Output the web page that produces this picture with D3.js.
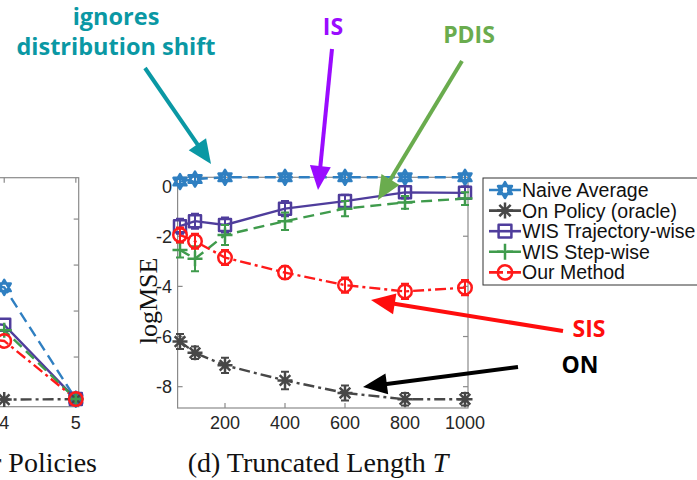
<!DOCTYPE html>
<html>
<head>
<meta charset="utf-8">
<script src="https://cdn.jsdelivr.net/npm/d3@7"></script>
<style>
  body { margin: 0; background: #fff; }
  svg { display: block; }
</style>
</head>
<body>
<div id="chart"></div>
<script>
// right panel: truncated length T
var lengths = [50, 100, 200, 400, 600, 800, 1000];
var naiveAvg = [0.18, 0.28, 0.35, 0.35, 0.35, 0.35, 0.35];
var onPolicy = [-6.2, -6.65, -7.15, -7.75, -8.25, -8.5, -8.5];
var wisTraj = [-1.6, -1.4, -1.55, -0.9, -0.6, -0.25, -0.27];
var wisStep = [-2.55, -2.9, -1.95, -1.4, -0.9, -0.65, -0.5];
var ourMethod = [-1.95, -2.2, -2.85, -3.45, -3.95, -4.2, -4.05];

var naiveErr = [0.1, 0.1, 0.1, 0.1, 0.1, 0.1, 0.1];
var onPolicyErr = [0.3, 0.25, 0.3, 0.35, 0.3, 0.25, 0.25];
var wisTrajErr = [0.3, 0.3, 0.3, 0.3, 0.25, 0.25, 0.25];
var wisStepErr = [0.3, 0.5, 0.4, 0.35, 0.3, 0.25, 0.25];
var ourErr = [0.3, 0.3, 0.3, 0.25, 0.3, 0.3, 0.3];

// left panel (cut off): number of behavior policies
var policies = [3, 4, 5];
var naiveL = [-2.6, -2.97, -7.83];
var onPolicyL = [-7.85, -7.85, -7.83];
var wisTrajL = [-4.3, -4.6, -7.83];
var wisStepL = [-4.6, -4.83, -7.83];
var ourL = [-5.0, -5.3, -7.83];

var xTicks = [200, 400, 600, 800, 1000];
var yTicks = [0, -2, -4, -6, -8];
var xTicksL = [4, 5];
var yTicksL = [0, -2, -4, -6, -8];

var seriesNames = ["Naive Average", "On Policy (oracle)", "WIS Trajectory-wise", "WIS Step-wise", "Our Method"];
var seriesColors = ["#2f7fc1", "#474747", "#4f3d9c", "#3f9b4c", "#ff1a1a"];
var seriesDash = ["11,6", "11,4,3,4", null, "11,6", "11,4,3,4"];
var seriesMarker = ["hexagram", "asterisk", "square", "plus", "circle"];

var w = 697, h = 480;
var svg = d3.select("#chart").append("svg").attr("width", w).attr("height", h);

var axisColor = "#8a8a8a";
var tickColor = "#262626";

function markerPath(type, s) {
    if (type == "hexagram") {
        var p = d3.path();
        [0, 1].forEach(function(k) {
            for (var i = 0; i < 3; i++) {
                var a = -Math.PI / 2 + k * Math.PI + i * 2 * Math.PI / 3;
                var px = s * Math.cos(a), py = s * Math.sin(a);
                if (i == 0) p.moveTo(px, py); else p.lineTo(px, py);
            }
            p.closePath();
        });
        return p.toString();
    }
    if (type == "asterisk") {
        var q = "";
        for (var i = 0; i < 4; i++) {
            var a = i * Math.PI / 4;
            q += "M" + (s * Math.cos(a)) + "," + (s * Math.sin(a)) + "L" + (-s * Math.cos(a)) + "," + (-s * Math.sin(a));
        }
        return q;
    }
    if (type == "square") {
        var r = s * 0.8;
        return "M" + (-r) + "," + (-r) + "H" + r + "V" + r + "H" + (-r) + "Z";
    }
    if (type == "plus") {
        return "M" + (-s) + ",0H" + s + "M0," + (-s) + "V" + s;
    }
    var c = s * 0.9;
    return "M" + c + ",0A" + c + "," + c + " 0 1,1 " + (-c) + ",0A" + c + "," + c + " 0 1,1 " + c + ",0Z";
}

function drawMarker(g, type, color, cx, cy, s) {
    g.append("path")
        .attr("d", markerPath(type, s))
        .attr("transform", "translate(" + cx + "," + cy + ")")
        .attr("fill", "none")
        .attr("stroke", color)
        .attr("stroke-width", 2.5)
        .attr("stroke-linejoin", "round");
}

function drawPanel(g, xs, ys, x, y, errs) {
    var line = d3.line().x(function(d, i) { return x(xs[i]); }).y(function(d) { return y(d); });
    ys.forEach(function(vals, k) {
        g.append("path")
            .datum(vals)
            .attr("d", line)
            .attr("fill", "none")
            .attr("stroke", seriesColors[k])
            .attr("stroke-width", 2.4)
            .attr("stroke-dasharray", seriesDash[k]);
    });
    ys.forEach(function(vals, k) {
        vals.forEach(function(v, i) {
            var cx = x(xs[i]), cy = y(v);
            if (errs) {
                var e = errs[k][i];
                g.append("path")
                    .attr("d", "M" + cx + "," + y(v + e) + "V" + y(v - e) +
                               "M" + (cx - 4) + "," + y(v + e) + "H" + (cx + 4) +
                               "M" + (cx - 4) + "," + y(v - e) + "H" + (cx + 4))
                    .attr("stroke", seriesColors[k])
                    .attr("stroke-width", 2)
                    .attr("fill", "none");
            }
            drawMarker(g, seriesMarker[k], seriesColors[k], cx, cy, 7.5);
        });
    });
}

// ---------- right panel ----------
var x = d3.scaleLinear().domain([42, 1010]).range([177.6, 468]);
var y = d3.scaleLinear().domain([-8.85, 0.35]).range([408, 177.3]);

var plot = svg.append("g");
plot.append("rect")
    .attr("x", x.range()[0]).attr("y", y.range()[1])
    .attr("width", x.range()[1] - x.range()[0])
    .attr("height", y.range()[0] - y.range()[1])
    .attr("fill", "none").attr("stroke", axisColor).attr("stroke-width", 1.2);

xTicks.forEach(function(t) {
    plot.append("line").attr("x1", x(t)).attr("x2", x(t)).attr("y1", y.range()[0]).attr("y2", y.range()[0] - 5)
        .attr("stroke", axisColor).attr("stroke-width", 1.2);
    plot.append("line").attr("x1", x(t)).attr("x2", x(t)).attr("y1", y.range()[1]).attr("y2", y.range()[1] + 5)
        .attr("stroke", axisColor).attr("stroke-width", 1.2);
    plot.append("text").text(t)
        .attr("x", x(t)).attr("y", 429)
        .attr("text-anchor", "middle")
        .attr("font-family", "Liberation Sans, Arial, sans-serif")
        .attr("font-size", "18px").attr("fill", tickColor);
});
yTicks.forEach(function(t) {
    plot.append("line").attr("x1", x.range()[0]).attr("x2", x.range()[0] + 5).attr("y1", y(t)).attr("y2", y(t))
        .attr("stroke", axisColor).attr("stroke-width", 1.2);
    plot.append("line").attr("x1", x.range()[1]).attr("x2", x.range()[1] - 5).attr("y1", y(t)).attr("y2", y(t))
        .attr("stroke", axisColor).attr("stroke-width", 1.2);
    plot.append("text").text(t == 0 ? "0" : "-" + Math.abs(t))
        .attr("x", 172).attr("y", y(t) + 6.5)
        .attr("text-anchor", "end")
        .attr("font-family", "Liberation Sans, Arial, sans-serif")
        .attr("font-size", "18px").attr("fill", tickColor);
});

drawPanel(plot, lengths, [naiveAvg, onPolicy, wisTraj, wisStep, ourMethod], x, y,
          [naiveErr, onPolicyErr, wisTrajErr, wisStepErr, ourErr]);

plot.append("text").text("logMSE")
    .attr("transform", "translate(157,301) rotate(-90)")
    .attr("text-anchor", "middle")
    .attr("font-family", "Liberation Serif, Times New Roman, serif")
    .attr("font-size", "26px").attr("fill", "#111");

var title = svg.append("text")
    .attr("x", 318).attr("y", 472)
    .attr("text-anchor", "middle")
    .attr("font-family", "Liberation Serif, Times New Roman, serif")
    .attr("font-size", "28px").attr("fill", "#111");
title.append("tspan").text("(d) Truncated Length ");
title.append("tspan").text("T").attr("font-style", "italic");

// ---------- left panel (cropped) ----------
var xL = d3.scaleLinear().domain([0.96, 5.04]).range([-213.5, 78.7]);
var yL = d3.scaleLinear().domain([-8.16, 1.8]).range([406.7, 177.7]);

var left = svg.append("g");
left.append("rect")
    .attr("x", xL.range()[0]).attr("y", yL.range()[1])
    .attr("width", xL.range()[1] - xL.range()[0])
    .attr("height", yL.range()[0] - yL.range()[1])
    .attr("fill", "none").attr("stroke", axisColor).attr("stroke-width", 1.2);
xTicksL.forEach(function(t) {
    left.append("line").attr("x1", xL(t)).attr("x2", xL(t)).attr("y1", yL.range()[0]).attr("y2", yL.range()[0] - 5)
        .attr("stroke", axisColor).attr("stroke-width", 1.2);
    left.append("line").attr("x1", xL(t)).attr("x2", xL(t)).attr("y1", yL.range()[1]).attr("y2", yL.range()[1] + 5)
        .attr("stroke", axisColor).attr("stroke-width", 1.2);
    left.append("text").text(t)
        .attr("x", xL(t)).attr("y", 429)
        .attr("text-anchor", "middle")
        .attr("font-family", "Liberation Sans, Arial, sans-serif")
        .attr("font-size", "18px").attr("fill", tickColor);
});
yTicksL.forEach(function(t) {
    left.append("line").attr("x1", xL.range()[1]).attr("x2", xL.range()[1] - 5).attr("y1", yL(t)).attr("y2", yL(t))
        .attr("stroke", axisColor).attr("stroke-width", 1.2);
});
drawPanel(left, policies, [naiveL, onPolicyL, wisTrajL, wisStepL, ourL], xL, yL, null);

svg.append("text").text("r Policies")
    .attr("x", 97).attr("y", 472)
    .attr("text-anchor", "end")
    .attr("font-family", "Liberation Serif, Times New Roman, serif")
    .attr("font-size", "28px").attr("fill", "#111");

// ---------- legend ----------
var legend = svg.append("g");
legend.append("rect")
    .attr("x", 483).attr("y", 178).attr("width", 240).attr("height", 107)
    .attr("fill", "#fff").attr("stroke", "#333").attr("stroke-width", 1);
seriesNames.forEach(function(name, k) {
    var ly = 190 + k * 20.6;
    legend.append("line").attr("x1", 489).attr("x2", 521).attr("y1", ly).attr("y2", ly)
        .attr("stroke", seriesColors[k]).attr("stroke-width", 2.6)
        .attr("stroke-dasharray", seriesDash[k] ? "14,4" : null);
    drawMarker(legend, seriesMarker[k], seriesColors[k], 505, ly, 8);
    legend.append("text").text(name)
        .attr("x", 522).attr("y", ly + 7)
        .attr("font-family", "Liberation Sans, Arial, sans-serif")
        .attr("font-size", "19.5px").attr("fill", "#111");
});

// ---------- annotations ----------
var notes = [
    {lines: ["ignores", "distribution shift"], x: 116, y: [25, 55], color: "#0a98a4", from: [145, 68], to: [211, 164]},
    {lines: ["IS"], x: 333, y: [35], color: "#9a0bff", from: [332, 49], to: [318, 190]},
    {lines: ["PDIS"], x: 469, y: [43], color: "#6aac4e", from: [462, 61], to: [378, 200]},
    {lines: ["SIS"], x: 589, y: [337], color: "#ff0d0d", from: [563, 331], to: [371, 300]},
    {lines: ["ON"], x: 580, y: [373], color: "#000000", from: [518, 367], to: [363, 387]}
];
var ann = svg.append("g");
notes.forEach(function(n) {
    n.lines.forEach(function(t, i) {
        ann.append("text").text(t)
            .attr("x", n.x).attr("y", n.y[i])
            .attr("text-anchor", "middle")
            .attr("font-family", "Open Sans, sans-serif")
            .attr("font-weight", "bold")
            .attr("font-size", n.lines.length > 1 ? "23.5px" : "23px").attr("fill", n.color);
    });
    var dx = n.to[0] - n.from[0], dy = n.to[1] - n.from[1];
    var len = Math.sqrt(dx * dx + dy * dy), ux = dx / len, uy = dy / len;
    var hl = 24, hw = 10.5;
    var bx = n.to[0] - ux * hl, by = n.to[1] - uy * hl;
    ann.append("line")
        .attr("x1", n.from[0]).attr("y1", n.from[1]).attr("x2", bx + ux * 2).attr("y2", by + uy * 2)
        .attr("stroke", n.color).attr("stroke-width", 4);
    ann.append("path")
        .attr("d", "M" + n.to[0] + "," + n.to[1] +
                   "L" + (bx - uy * hw) + "," + (by + ux * hw) +
                   "L" + (bx + uy * hw) + "," + (by - ux * hw) + "Z")
        .attr("fill", n.color);
});
</script>
</body>
</html>
